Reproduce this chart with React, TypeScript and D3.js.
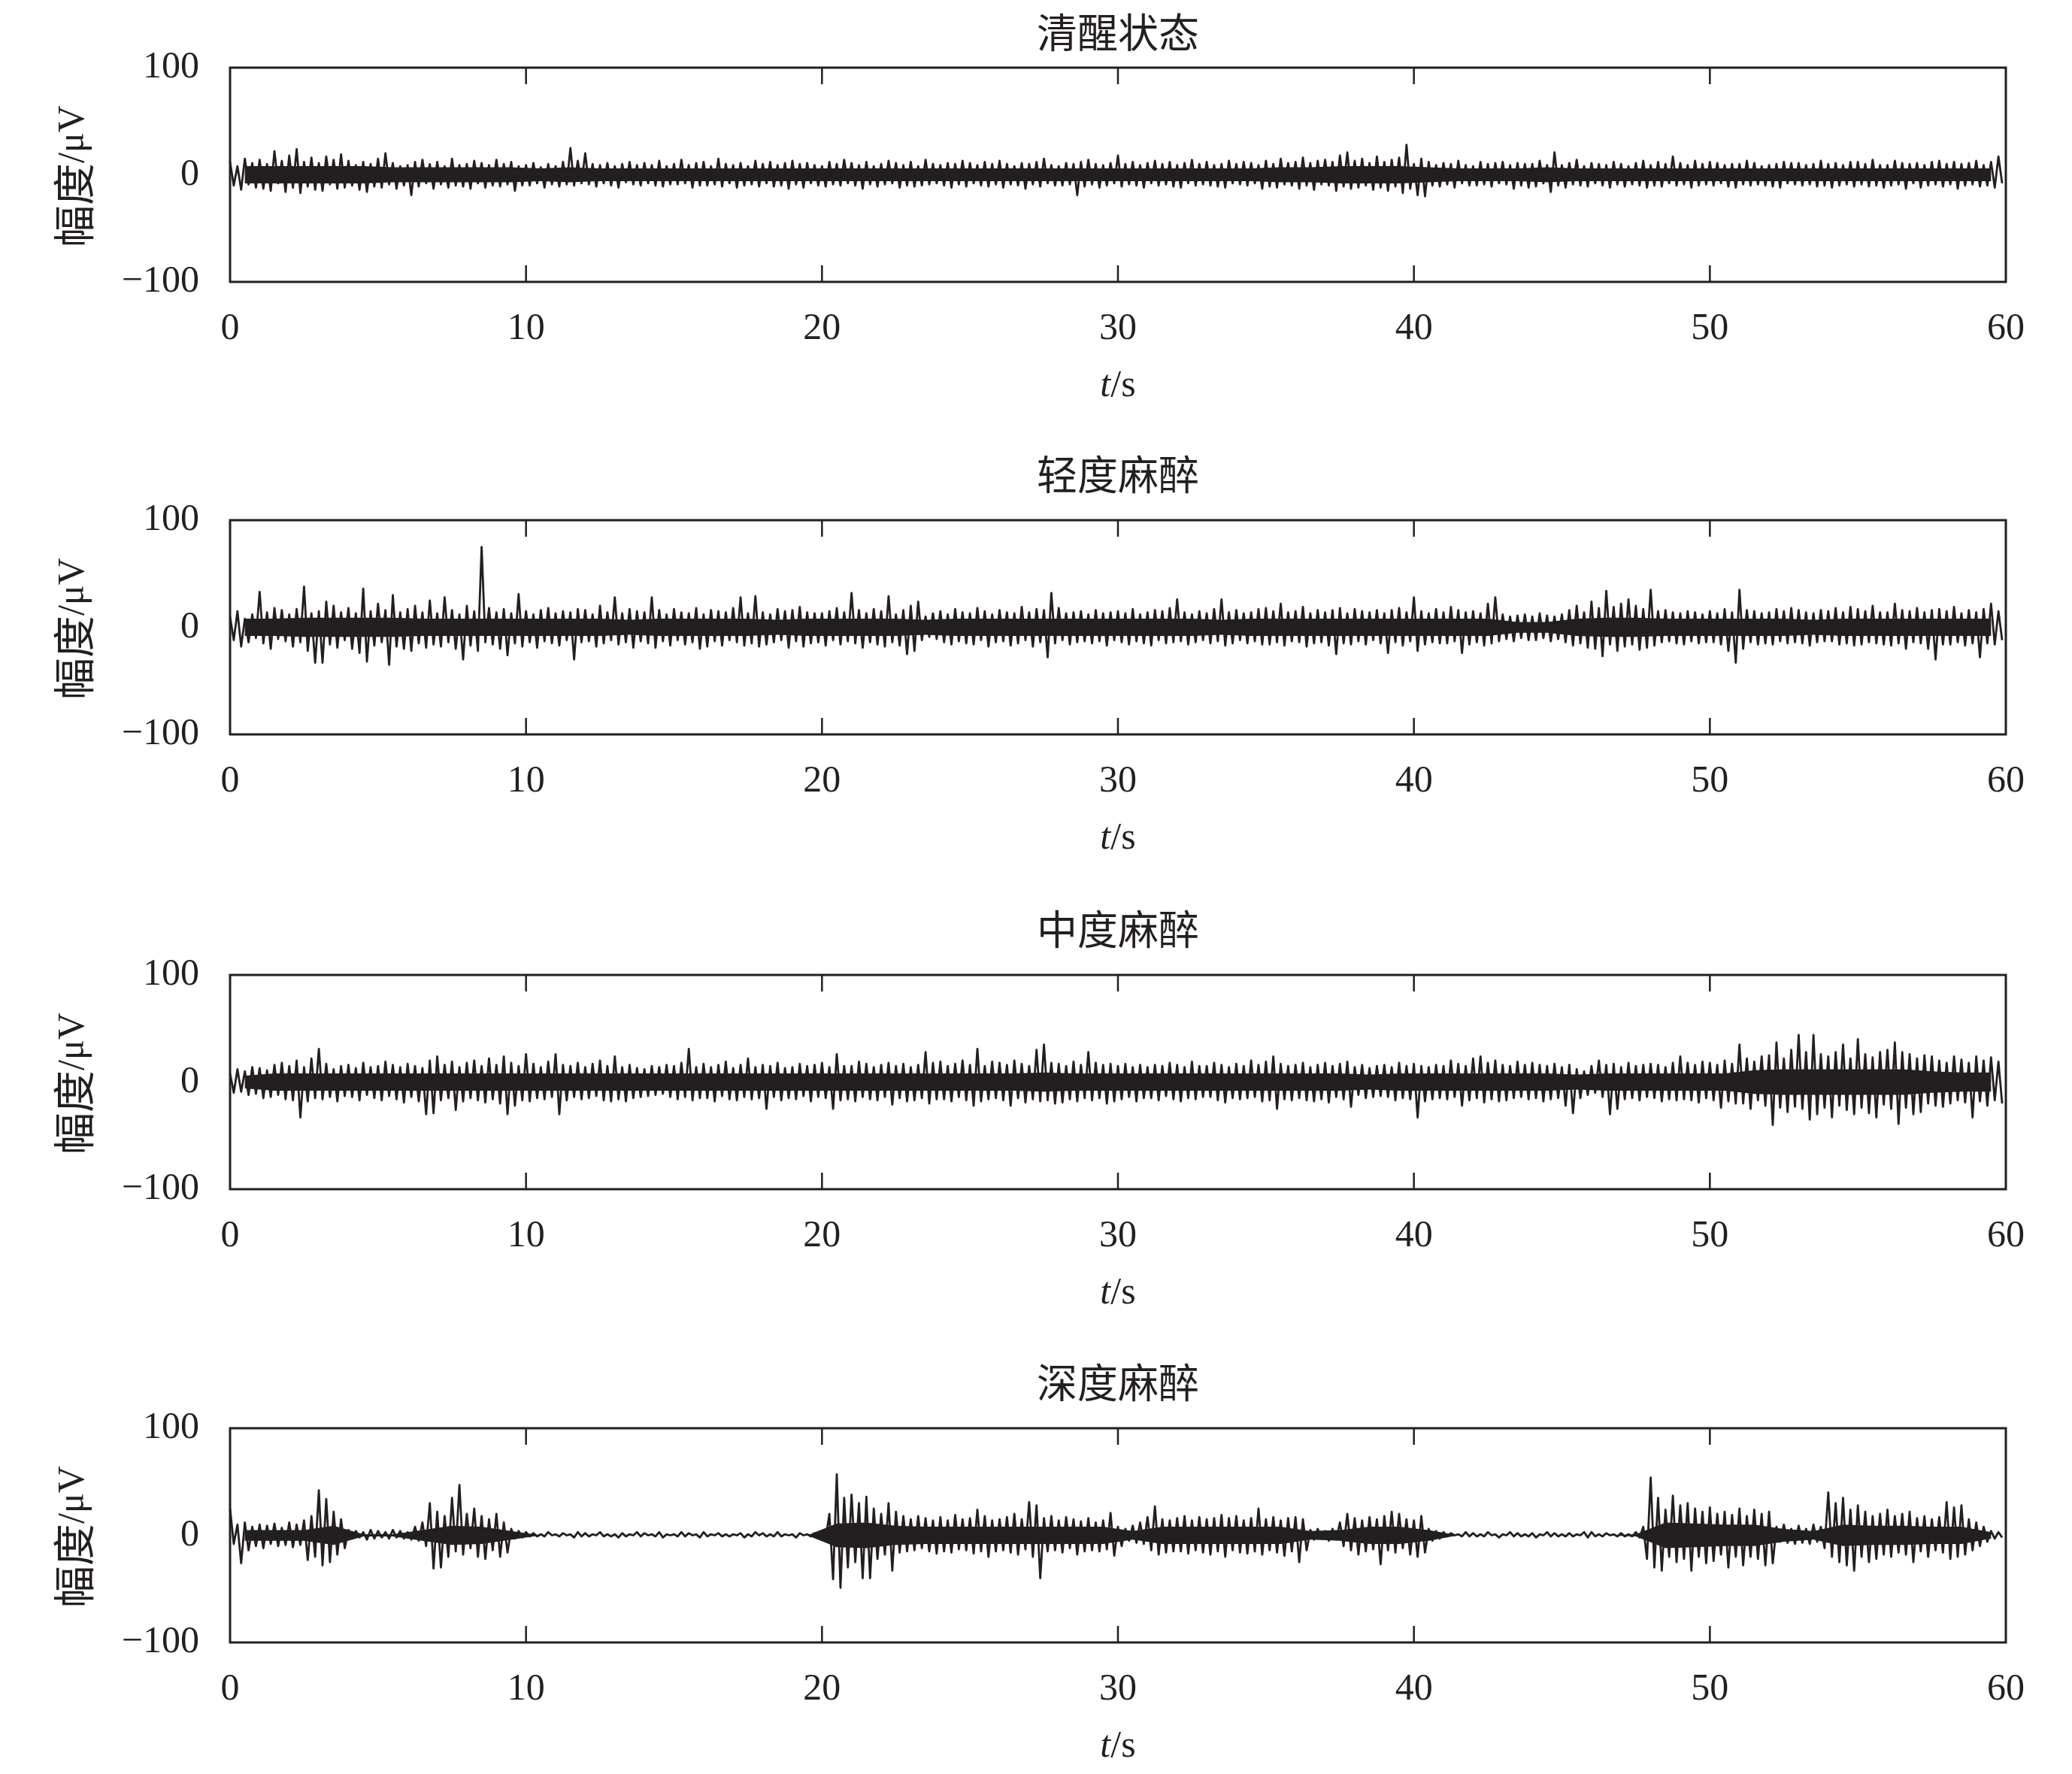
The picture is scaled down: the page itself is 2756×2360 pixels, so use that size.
import React from 'react';
import * as d3 from 'd3';

const TITLES = ['清醒状态', '轻度麻醉', '中度麻醉', '深度麻醉'];
const X_TICKS = [0, 10, 20, 30, 40, 50, 60];
const Y_TICKS = [-100, 0, 100];
const STEP = 0.125; // seconds between read-off extreme samples

// 清醒状态 — alternating local maxima / minima (µV)
const AWAKE = [
  12,-10,8,-14,15,-9,11,-12,
  14,-13,10,-15,22,-8,13,-16,
  18,-12,24,-17,12,-11,16,-14,
  11,-15,17,-9,14,-13,19,-12,
  13,-10,9,-14,12,-16,10,-11,
  15,-12,20,-9,11,-13,8,-10,
  9,-19,12,-11,14,-8,10,-13,
  12,-9,8,-12,15,-10,9,-11,
  10,-13,13,-8,11,-12,9,-10,
  14,-11,10,-9,12,-15,8,-10,
  9,-10,11,-8,7,-12,10,-9,
  8,-11,12,-9,25,-10,13,-8,
  20,-9,10,-11,9,-8,11,-10,
  8,-12,10,-7,12,-9,9,-10,
  11,-8,9,-10,13,-11,8,-9,
  10,-9,14,-8,9,-12,11,-10,
  12,-10,8,-9,15,-11,10,-8,
  9,-12,11,-10,8,-9,13,-11,
  10,-8,12,-11,9,-10,11,-13,
  13,-9,10,-12,11,-8,9,-10,
  8,-11,12,-9,10,-10,14,-8,
  11,-10,9,-13,12,-9,8,-11,
  10,-9,13,-8,11,-12,9,-10,
  12,-11,8,-10,14,-9,10,-8,
  9,-10,11,-12,10,-9,13,-11,
  11,-8,9,-10,12,-11,10,-9,
  13,-12,10,-9,8,-10,11,-13,
  10,-9,12,-11,15,-8,9,-10,
  8,-10,11,-9,10,-19,12,-11,
  14,-9,10,-12,9,-10,11,-8,
  18,-11,10,-9,12,-10,9,-12,
  11,-8,13,-10,10,-9,12,-11,
  9,-12,11,-8,14,-10,10,-9,
  12,-10,9,-11,10,-12,13,-8,
  10,-9,12,-10,11,-8,9,-13,
  13,-11,10,-12,15,-9,11,-10,
  12,-13,16,-10,11,-14,13,-9,
  14,-10,12,-15,18,-11,21,-13,
  13,-12,15,-10,11,-14,17,-12,
  12,-15,14,-11,16,-17,28,-13,
  10,-19,15,-20,12,-10,9,-11,
  11,-9,10,-12,13,-8,9,-10,
  8,-10,12,-9,10,-11,11,-8,
  12,-9,9,-13,11,-10,10,-12,
  10,-11,13,-8,9,-16,21,-10,
  9,-12,11,-9,14,-10,8,-11,
  11,-8,10,-10,9,-12,12,-9,
  10,-11,8,-9,11,-10,13,-12,
  9,-10,12,-11,10,-8,17,-10,
  11,-9,9,-12,13,-10,10,-9,
  12,-10,11,-8,9,-11,10,-12,
  10,-9,13,-10,11,-9,8,-10,
  9,-11,10,-12,12,-8,11,-9,
  11,-10,9,-9,10,-11,13,-10,
  10,-12,11,-10,9,-9,12,-11,
  12,-9,10,-11,14,-10,9,-12,
  9,-10,13,-9,11,-13,10,-8,
  11,-12,9,-10,12,-9,13,-11,
  10,-9,12,-13,10,-10,11,-9,
  13,-11,9,-10,12,-12,17,-8,
];

// 轻度麻醉
const LIGHT = [
  10,-12,15,-18,8,-14,12,-10,
  33,-15,14,-20,18,-11,16,-13,
  12,-18,17,-14,38,-22,13,-33,
  15,-33,24,-16,20,-19,14,-12,
  18,-20,13,-24,36,-32,15,-17,
  22,-14,16,-35,30,-18,14,-20,
  17,-22,20,-15,14,-19,25,-16,
  13,-18,28,-14,16,-20,12,-30,
  20,-17,15,-22,75,-14,18,-16,
  14,-20,17,-26,13,-15,31,-18,
  15,-14,12,-19,16,-13,18,-15,
  13,-17,15,-12,14,-30,17,-14,
  16,-13,12,-18,20,-15,14,-12,
  28,-16,13,-14,17,-19,15,-13,
  14,-15,28,-19,16,-13,12,-17,
  17,-12,14,-16,13,-14,18,-20,
  12,-18,16,-13,15,-17,14,-12,
  18,-14,28,-17,13,-15,29,-18,
  14,-16,12,-14,17,-12,15,-19,
  16,-13,19,-18,14,-15,13,-14,
  13,-17,15,-12,18,-16,14,-13,
  32,-15,16,-19,13,-14,17,-16,
  15,-18,29,-14,12,-17,16,-25,
  20,-22,24,-12,10,-9,13,-11,
  15,-14,12,-16,17,-13,14,-15,
  13,-16,18,-12,15,-18,12,-14,
  16,-13,14,-17,13,-15,19,-12,
  14,-18,17,-14,16,-28,32,-15,
  18,-12,13,-16,14,-14,15,-13,
  12,-15,16,-13,13,-17,14,-12,
  15,-14,13,-16,17,-13,12,-15,
  14,-17,16,-12,15,-15,18,-14,
  26,-13,14,-16,12,-14,15,-12,
  13,-15,17,-13,26,-17,14,-15,
  16,-12,13,-15,14,-13,17,-16,
  18,-16,15,-14,22,-17,14,-13,
  15,-14,19,-18,13,-15,16,-14,
  14,-17,16,-25,18,-15,13,-16,
  17,-13,15,-16,14,-12,16,-15,
  13,-24,16,-14,18,-17,14,-13,
  28,-22,15,-16,13,-14,17,-15,
  14,-15,19,-13,16,-24,14,-16,
  15,-14,13,-17,22,-15,28,-13,
  12,-11,10,-13,11,-10,12,-12,
  10,-12,13,-10,11,-13,10,-11,
  12,-14,16,-17,20,-15,14,-19,
  24,-20,18,-27,34,-16,19,-22,
  22,-18,26,-16,20,-21,17,-19,
  35,-17,15,-14,16,-13,14,-15,
  13,-16,15,-13,14,-15,12,-14,
  15,-14,13,-16,17,-22,14,-33,
  35,-20,16,-14,15,-16,13,-15,
  14,-16,17,-13,15,-15,18,-14,
  16,-15,14,-17,13,-14,16,-13,
  15,-13,18,-16,14,-15,19,-17,
  17,-16,15,-14,20,-15,14,-16,
  14,-17,22,-15,16,-20,15,-14,
  18,-15,14,-20,16,-30,17,-16,
  15,-16,19,-14,13,-17,16,-15,
  14,-28,17,-15,22,-16,15,-12,
];

// 中度麻醉
const MODERATE = [
  8,-10,12,-9,10,-12,14,-11,
  13,-15,11,-14,16,-12,18,-16,
  15,-17,20,-33,14,-18,22,-15,
  31,-16,17,-14,12,-18,15,-13,
  16,-14,13,-17,18,-12,14,-15,
  15,-17,19,-13,16,-16,14,-19,
  17,-14,15,-18,13,-30,20,-29,
  24,-17,16,-15,19,-26,14,-18,
  18,-15,20,-17,15,-19,22,-16,
  16,-20,24,-30,18,-22,15,-17,
  26,-18,17,-15,14,-16,19,-14,
  26,-30,16,-17,15,-14,18,-16,
  14,-15,17,-13,20,-17,15,-18,
  24,-16,14,-18,16,-15,13,-14,
  12,-13,15,-12,14,-11,16,-14,
  15,-16,18,-14,31,-17,14,-15,
  17,-15,14,-18,16,-13,19,-16,
  13,-17,16,-14,22,-16,14,-15,
  16,-25,15,-14,18,-17,13,-15,
  14,-16,17,-13,15,-18,16,-14,
  18,-15,14,-25,26,-17,15,-16,
  15,-18,19,-14,17,-16,14,-17,
  16,-14,18,-21,15,-15,17,-18,
  14,-17,16,-15,28,-20,18,-16,
  19,-16,15,-18,17,-14,20,-17,
  16,-22,31,-18,15,-16,19,-15,
  18,-17,16,-22,20,-15,17,-19,
  15,-16,30,-18,35,-17,18,-20,
  17,-19,15,-16,19,-18,16,-15,
  28,-17,18,-15,16,-20,17,-18,
  15,-16,17,-14,14,-18,16,-15,
  14,-15,16,-17,15,-13,18,-16,
  16,-18,14,-15,19,-16,15,-14,
  15,-14,18,-17,16,-19,14,-15,
  17,-16,15,-15,20,-14,16,-18,
  19,-17,24,-25,17,-16,15,-17,
  16,-15,18,-17,14,-18,16,-16,
  18,-19,15,-14,17,-16,19,-23,
  14,-12,16,-15,13,-14,15,-13,
  16,-14,14,-17,18,-15,15,-16,
  17,-33,15,-18,14,-16,16,-15,
  15,-16,20,-14,17,-22,15,-17,
  22,-15,24,-19,18,-16,20,-18,
  16,-17,15,-15,19,-14,16,-16,
  18,-15,16,-18,15,-16,17,-15,
  14,-22,16,-29,12,-15,10,-12,
  15,-10,20,-14,16,-30,17,-25,
  14,-16,18,-15,15,-17,16,-14,
  17,-15,16,-18,14,-16,18,-17,
  24,-16,18,-17,16,-19,19,-15,
  18,-17,16,-24,20,-18,17,-20,
  35,-20,22,-25,19,-17,24,-22,
  25,-40,37,-24,22,-28,30,-23,
  44,-25,28,-35,44,-30,26,-24,
  24,-33,28,-22,35,-26,22,-30,
  40,-24,26,-29,23,-33,28,-21,
  30,-25,37,-39,28,-24,26,-30,
  22,-28,25,-20,24,-22,20,-23,
  18,-20,24,-17,21,-19,18,-33,
  24,-18,20,-22,23,-17,19,-20,
];

// 深度麻醉
const DEEP = [
  25,-8,10,-26,12,-14,8,-10,
  10,-12,9,-8,11,-10,7,-9,
  12,-11,10,-9,14,-23,18,-20,
  42,-28,34,-25,22,-18,15,-12,
  5,-3,4,-2,3,-4,5,-3,
  4,-2,3,-3,5,-2,4,-3,
  3,-4,8,-5,12,-10,30,-31,
  22,-30,18,-20,35,-15,47,-18,
  20,-12,25,-20,18,-22,15,-14,
  20,-20,12,-16,6,-3,4,-2,
  3,-1,2,-1,1,-1,3,0,
  1,-1,2,0,1,-2,3,-1,
  2,-1,1,0,3,-1,1,-1,
  1,-2,2,-1,1,0,3,-1,
  2,0,1,-1,3,-2,1,0,
  1,-1,3,-1,2,0,1,-2,
  3,-1,1,0,2,-1,1,-1,
  1,0,2,-2,1,-1,3,0,
  2,-1,1,-1,3,-1,1,0,
  1,-2,2,0,1,-1,2,-1,
  4,-3,20,-41,57,-49,35,-30,
  38,-25,30,-40,36,-40,25,-22,
  20,-18,30,-33,22,-16,18,-15,
  15,-14,18,-12,16,-15,14,-17,
  17,-15,14,-16,19,-13,15,-14,
  16,-17,24,-15,18,-20,14,-15,
  15,-14,17,-16,20,-18,15,-13,
  31,-20,28,-40,16,-15,18,-14,
  14,-16,17,-12,15,-18,13,-15,
  16,-14,12,-15,14,-13,21,-19,
  8,-10,6,-5,9,-7,12,-8,
  17,-14,27,-18,15,-16,14,-15,
  16,-15,18,-17,14,-14,17,-16,
  15,-18,16,-15,19,-20,16,-14,
  18,-16,14,-17,16,-15,25,-18,
  15,-14,17,-16,14,-19,16,-15,
  17,-25,15,-14,5,-4,6,-3,
  4,-5,6,-4,12,-10,20,-14,
  16,-18,14,-15,17,-13,15,-27,
  18,-14,22,-16,20,-12,15,-18,
  14,-20,18,-16,6,-5,4,-3,
  3,-1,2,0,1,-1,3,-1,
  2,-1,1,-1,3,0,1,-2,
  1,0,3,-1,2,-1,1,-1,
  2,-2,1,0,3,-1,2,-1,
  1,-1,2,-1,1,0,3,-2,
  3,-1,1,-1,2,0,1,-1,
  2,-1,1,-1,3,-2,8,-22,
  54,-30,35,-33,24,-20,37,-25,
  28,-22,30,-33,25,-20,22,-26,
  26,-24,20,-18,22,-30,19,-20,
  25,-28,18,-20,24,-22,20,-28,
  22,-26,8,-6,10,-7,6,-8,
  9,-7,6,-8,10,-6,8,-12,
  40,-20,30,-25,35,-28,24,-33,
  28,-20,22,-25,18,-22,20,-18,
  24,-20,18,-16,20,-18,22,-25,
  16,-15,18,-20,15,-14,17,-16,
  31,-22,26,-20,28,-18,15,-14,
  12,-10,8,-6,4,-3,3,-2,
];

// half-width (µV) of the solid-black core of each trace, one value per second
const AWAKE_CORE = [
  8,8,8,8,8, 7,7,7,7,7, 6,7,6,6,6, 6,6,6,6,6, 6,6,6,6,6, 6,6,6,6,6,
  6,6,6,6,6, 7,7,8,8,8, 7,6,6,6,7, 6,6,6,6,6, 6,6,6,6,6, 6,6,6,6,6,
];
const LIGHT_CORE = [
  8,8,9,9,9, 9,8,8,8,8, 8,8,8,7,8, 8,8,8,7,8, 8,8,8,7,8, 8,8,8,8,8,
  8,8,8,7,8, 8,8,8,8,8, 8,8,8,5,5, 8,9,9,8,8, 8,8,8,7,8, 8,8,8,8,8,
];
const MODERATE_CORE = [
  6,8,8,8,8, 8,8,8,8,8, 8,8,8,8,8, 8,8,8,8,8, 8,8,8,8,8, 8,8,9,8,8,
  8,8,8,8,8, 8,8,8,7,8, 8,8,8,8,8, 7,8,8,8,8, 8,11,12,12,12, 12,12,10,9,9,
];
const DEEP_CORE = [
  5,5,5,9,1, 1,5,9,8,4, 0,0,0,0,0, 0,0,0,0,0, 11,12,9,8,8, 8,8,8,8,8,
  4,8,8,8,8, 8,4,5,8,8, 5,0,0,0,0, 0,0,1,12,11, 10,10,6,4,10, 9,9,8,8,3,
];

const SERIES = [AWAKE, LIGHT, MODERATE, DEEP];
const CORES = [AWAKE_CORE, LIGHT_CORE, MODERATE_CORE, DEEP_CORE];

const W = 2756;
const H = 2360;
const LEFT = 306;
const RIGHT = 2668;
const TOPS = [90, 692, 1297, 1900];
const PH = 285;
const INK = '#231f20';
const SERIF = '"Liberation Serif", "Times New Roman", serif';
const CJK = '"Noto Sans CJK SC", "Noto Sans CJK JP", sans-serif';
const FS = 50;

export default function App() {
  const x = d3.scaleLinear().domain([0, 60]).range([LEFT, RIGHT]);
  return (
    <div style={{ position: 'absolute', left: 0, top: 0 }}>
      <svg width={W} height={H} viewBox={`0 0 ${W} ${H}`} xmlns="http://www.w3.org/2000/svg">
        <rect x={0} y={0} width={W} height={H} fill="#ffffff" />
        {SERIES.map((vals, k) => {
          const top = TOPS[k];
          const bottom = top + PH;
          const y = d3.scaleLinear().domain([-100, 100]).range([bottom, top]);
          const line = d3
            .line<number>()
            .x((_, i) => x(i * STEP))
            .y((d) => y(d));
          const area = d3
            .area<number>()
            .x((_, i) => x(i + 0.5))
            .y0((d) => y(-d))
            .y1((d) => y(d));
          const cx = (LEFT + RIGHT) / 2;
          const titleY = Math.max(top - 64, 40);
          return (
            <g key={k}>
              <path d={area(CORES[k]) || ''} fill={INK} stroke="none" />
              <path
                d={line(vals) || ''}
                fill="none"
                stroke={INK}
                strokeWidth={2.8}
                strokeLinejoin="round"
              />
              <rect
                x={LEFT}
                y={top}
                width={RIGHT - LEFT}
                height={PH}
                fill="none"
                stroke={INK}
                strokeWidth={3}
              />
              {X_TICKS.filter((t) => t > 0 && t < 60).map((t) => (
                <g key={t}>
                  <line x1={x(t)} x2={x(t)} y1={top} y2={top + 22} stroke={INK} strokeWidth={2.5} />
                  <line x1={x(t)} x2={x(t)} y1={bottom} y2={bottom - 22} stroke={INK} strokeWidth={2.5} />
                </g>
              ))}
              {X_TICKS.map((t) => (
                <text
                  key={'xl' + t}
                  x={x(t)}
                  y={bottom + 76}
                  textAnchor="middle"
                  fontFamily={SERIF}
                  fontSize={FS}
                  fill={INK}
                >
                  {t}
                </text>
              ))}
              {Y_TICKS.map((v) => (
                <text
                  key={'yl' + v}
                  x={265}
                  y={y(v) + 13}
                  textAnchor="end"
                  fontFamily={SERIF}
                  fontSize={FS}
                  fill={INK}
                >
                  {v < 0 ? '\u2212' + Math.abs(v) : String(v)}
                </text>
              ))}
              <text
                transform={`translate(94, ${(top + bottom) / 2 + 2}) rotate(-90)`}
                textAnchor="middle"
                dominantBaseline="central"
                fontSize={FS}
                fill={INK}
              >
                <tspan fontFamily={CJK} fontSize={56}>幅度</tspan>
                <tspan fontFamily={SERIF}>/μV</tspan>
              </text>
              <text
                x={cx}
                y={titleY}
                textAnchor="middle"
                dominantBaseline="central"
                fontFamily={CJK}
                fontSize={54}
                fill={INK}
              >
                {TITLES[k]}
              </text>
              <text
                x={cx}
                y={bottom + 152}
                textAnchor="middle"
                fontFamily={SERIF}
                fontSize={FS}
                fill={INK}
              >
                <tspan fontStyle="italic">t</tspan>
                <tspan>/s</tspan>
              </text>
            </g>
          );
        })}
      </svg>
    </div>
  );
}
